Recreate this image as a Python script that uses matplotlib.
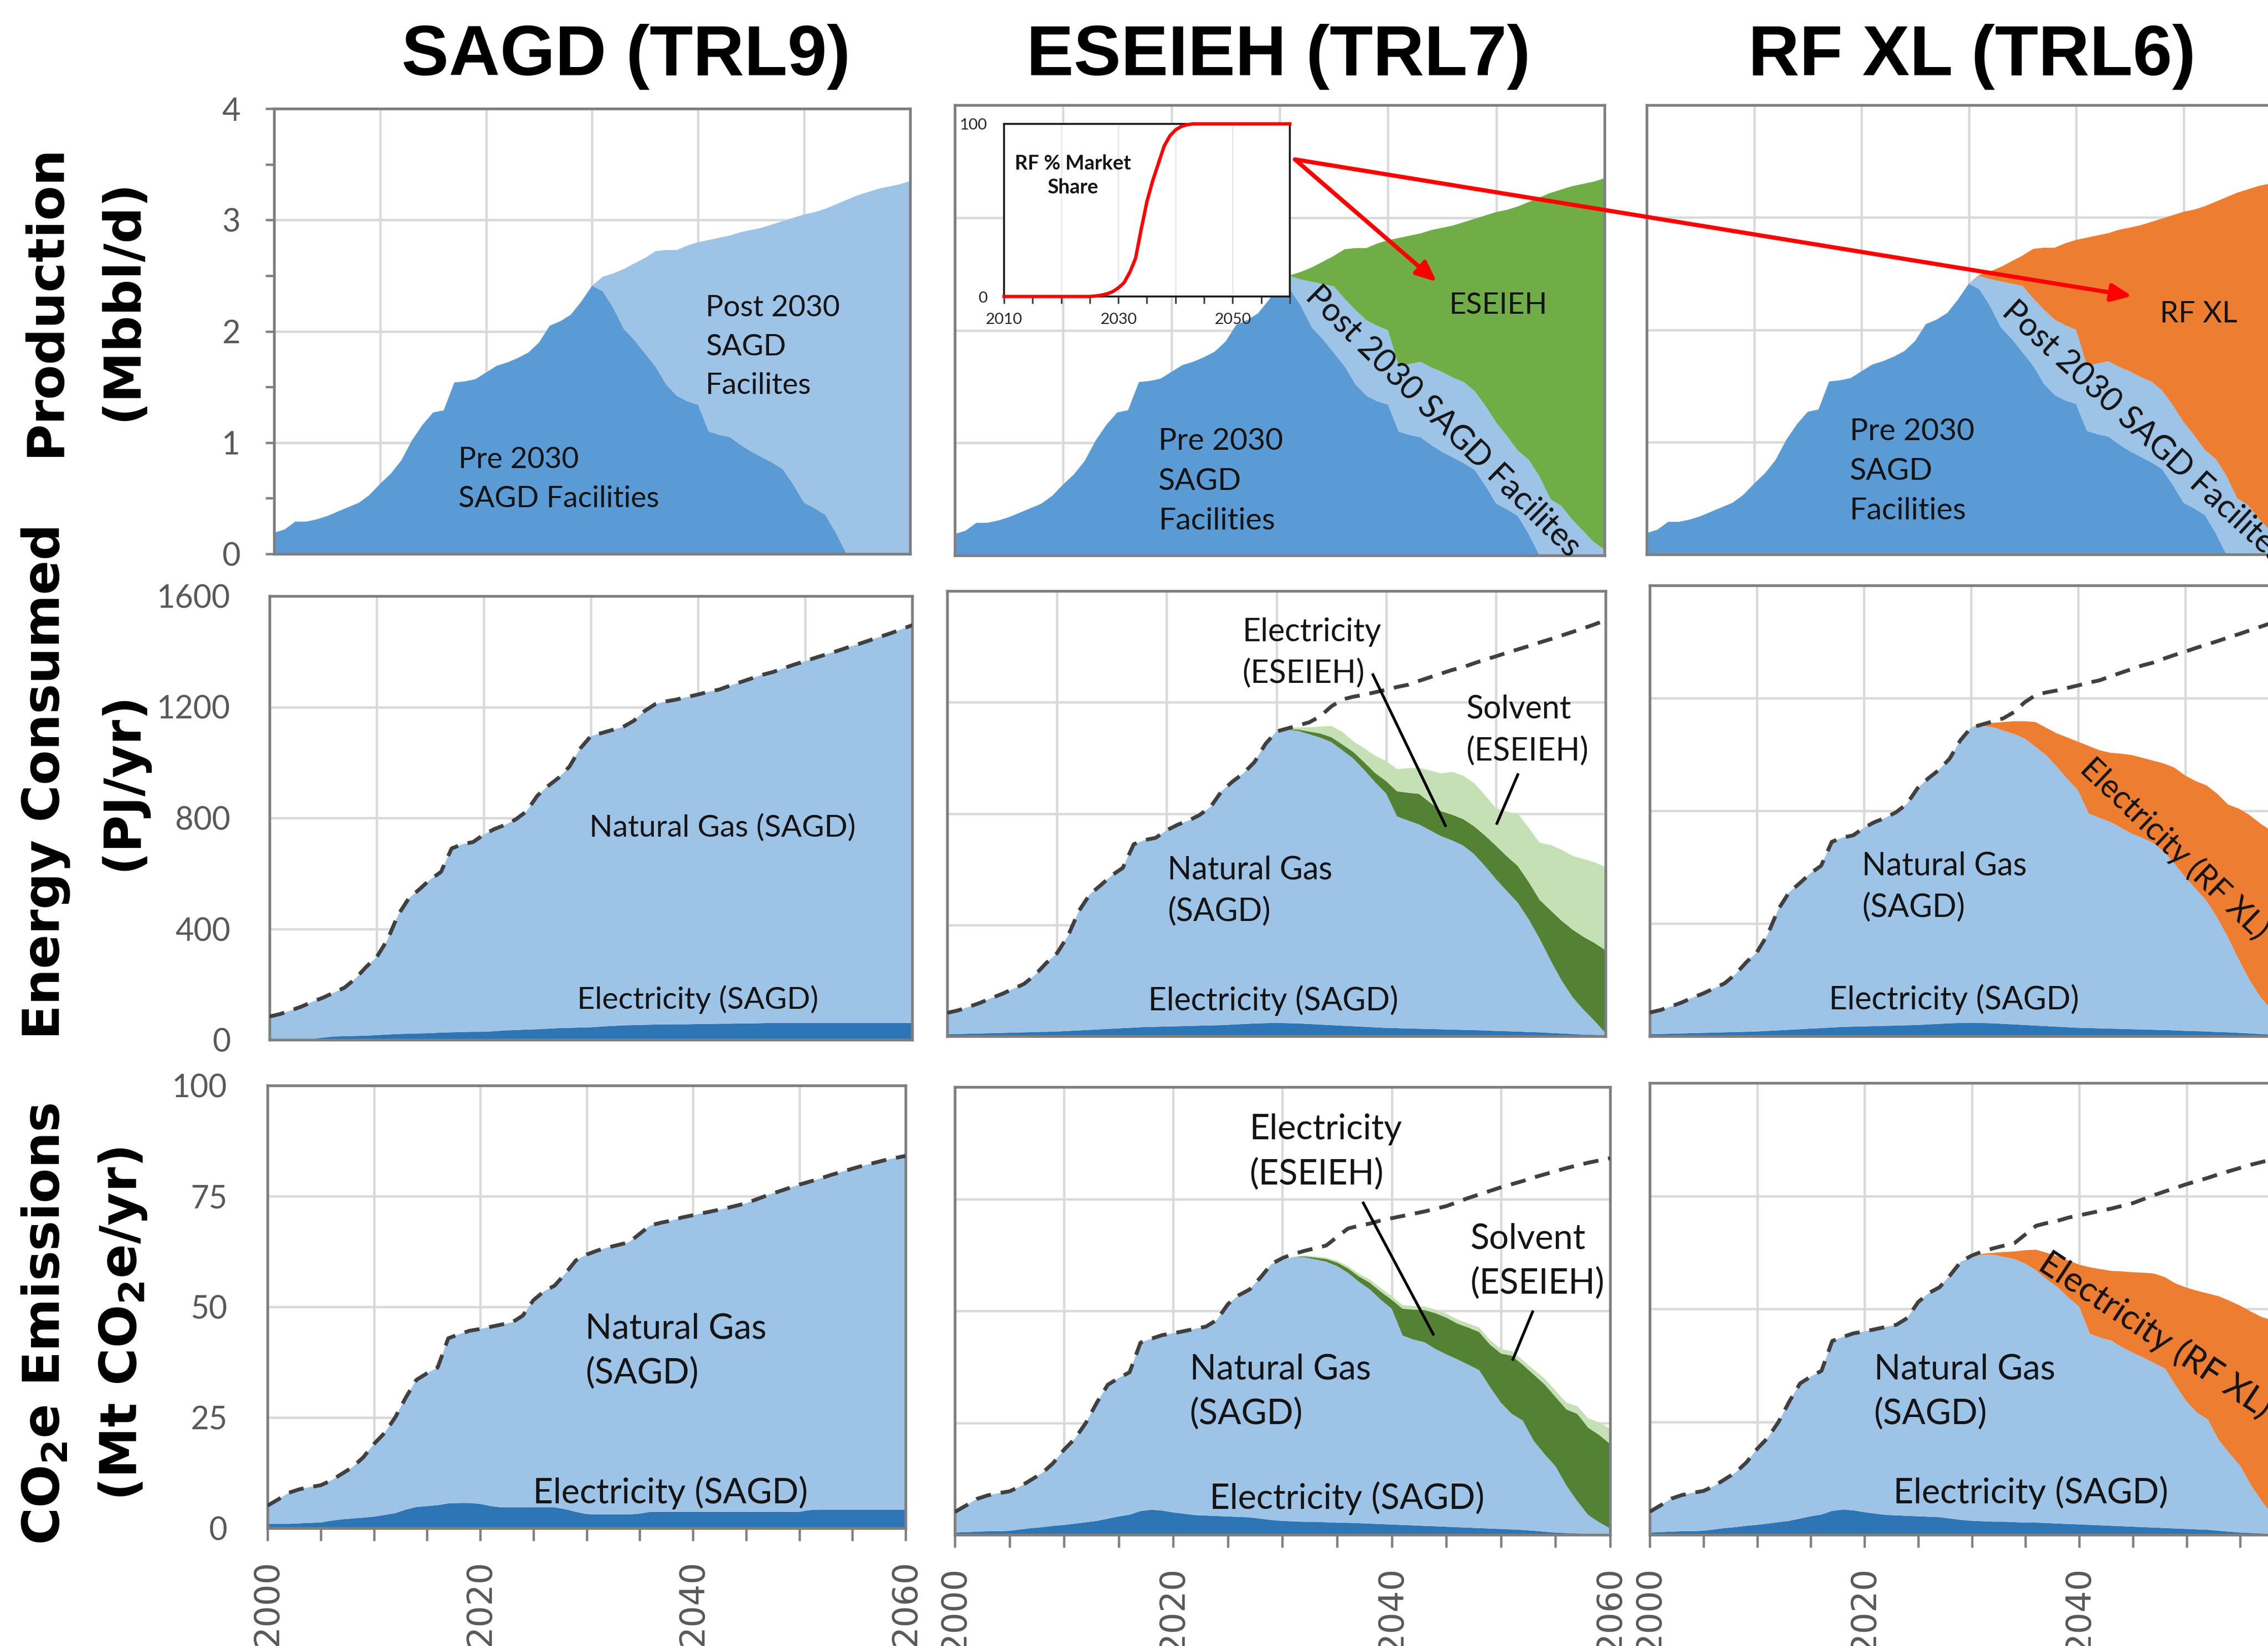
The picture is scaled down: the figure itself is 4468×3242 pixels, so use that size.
import numpy as np
import matplotlib
matplotlib.use("Agg")
import matplotlib.pyplot as plt
from matplotlib.patches import ConnectionPatch, ArrowStyle

W, H, DPI = 4468, 3242, 300

years = np.arange(2000, 2061)
share_years = np.arange(2010, 2061)

# ---------------- Production (Mbbl/d) ----------------
production_pre2030 = [
    0.19, 0.22, 0.29, 0.29, 0.31, 0.34, 0.38, 0.42, 0.46, 0.53,
    0.63, 0.72, 0.84, 1.02, 1.16, 1.27, 1.29, 1.54, 1.55, 1.57,
    1.63, 1.69, 1.72, 1.76, 1.81, 1.90, 2.05, 2.09, 2.15, 2.27,
    2.41, 2.36, 2.21, 2.02, 1.92, 1.80, 1.68, 1.52, 1.42, 1.37,
    1.34, 1.10, 1.07, 1.05, 0.98, 0.92, 0.87, 0.82, 0.76, 0.62,
    0.46, 0.41, 0.35, 0.19, 0.00, 0.00, 0.00, 0.00, 0.00, 0.00,
    0.00,
]
production_post2030_sagd = [0.0] * 31 + [
    0.13, 0.31, 0.54, 0.69, 0.86, 1.04, 1.21, 1.31, 1.40,
    1.46, 1.72, 1.77, 1.81, 1.91, 1.99, 2.06, 2.14, 2.23, 2.40,
    2.59, 2.66, 2.75, 2.95, 3.18, 3.22, 3.25, 3.28, 3.30, 3.32,
    3.35,
]
production_post2030_with_new = [0.0] * 31 + [
    0.12, 0.24, 0.41, 0.49, 0.59, 0.60, 0.66, 0.67, 0.67,
    0.66, 0.58, 0.63, 0.67, 0.69, 0.71, 0.71, 0.72, 0.70, 0.71,
    0.72, 0.65, 0.58, 0.66, 0.70, 0.50, 0.44, 0.32, 0.22, 0.12,
    0.05,
]
production_new_process = [0.0] * 31 + [
    0.01, 0.07, 0.13, 0.20, 0.27, 0.44, 0.55, 0.64, 0.73,
    0.80, 1.14, 1.14, 1.14, 1.22, 1.28, 1.35, 1.42, 1.53, 1.69,
    1.87, 2.01, 2.17, 2.29, 2.48, 2.72, 2.81, 2.96, 3.08, 3.20,
    3.30,
]

# RF market share (%), inset
rf_market_share = [
    0, 0, 0, 0, 0, 0, 0, 0, 0, 0,
    0, 0, 0, 0, 0, 0, 0.3, 0.8, 1.5, 2.8,
    5, 8, 14, 22, 39, 55, 67, 77, 87, 93,
    96.5, 98.5, 99.5, 100, 100, 100, 100, 100, 100, 100,
    100, 100, 100, 100, 100, 100, 100, 100, 100, 100,
    100,
]

# ---------------- Energy consumed (PJ/yr) ----------------
energy_sagd_total = [
    84, 93, 106, 120, 137, 152, 170, 188, 220, 262,
    298, 360, 450, 510, 543, 578, 605, 690, 705, 713,
    740, 760, 775, 795, 824, 880, 915, 945, 985, 1050,
    1095, 1106, 1117, 1128, 1150, 1185, 1210, 1220, 1227, 1236,
    1245, 1255, 1263, 1277, 1290, 1303, 1316, 1326, 1340, 1353,
    1365, 1378, 1390, 1402, 1415, 1427, 1440, 1453, 1466, 1480,
    1495,
]
energy_elec_sagd = [
    2, 2, 2, 3, 3, 8, 12, 13, 14, 15,
    17, 19, 21, 22, 23, 24, 26, 27, 28, 29,
    29, 31, 34, 35, 37, 38, 40, 42, 43, 44,
    45, 48, 50, 52, 53, 54, 55, 55, 56, 56,
    57, 57, 58, 58, 59, 59, 60, 61, 61, 61,
    61, 61, 61, 61, 61, 61, 61, 61, 61, 61,
    61,
]
energy_gas_sagd = [
    82, 91, 104, 117, 134, 144, 158, 175, 206, 247,
    281, 341, 429, 488, 520, 554, 579, 663, 677, 684,
    711, 729, 741, 760, 787, 842, 875, 903, 942, 1006,
    1050, 1058, 1067, 1076, 1097, 1131, 1155, 1165, 1171, 1180,
    1188, 1198, 1205, 1219, 1231, 1244, 1256, 1265, 1279, 1292,
    1304, 1317, 1329, 1341, 1354, 1366, 1379, 1392, 1405, 1419,
    1434,
]
energy_elec_sagd_alt = [
    7, 8, 9, 10, 11, 12, 13, 14, 15, 16,
    17, 19, 21, 23, 25, 27, 29, 31, 33, 34,
    35, 36, 37, 38, 39, 40, 42, 44, 46, 47,
    48, 47, 46, 44, 42, 40, 38, 36, 34, 32,
    30, 29, 28, 27, 26, 25, 24, 23, 22, 21,
    19, 18, 17, 15, 14, 12, 10, 8, 6, 5,
    3,
]
energy_gas_sagd_alt = [
    77, 85, 97, 110, 126, 140, 157, 174, 205, 246,
    281, 341, 429, 487, 518, 551, 576, 659, 672, 679,
    705, 724, 738, 757, 785, 840, 873, 901, 939, 1003,
    1047, 1055, 1051, 1041, 1031, 1017, 990, 962, 923, 881,
    842, 761, 747, 734, 714, 694, 680, 663, 633, 591,
    546, 504, 463, 405, 336, 260, 190, 132, 89, 50,
    8,
]
energy_elec_eseieh = [0] * 31 + [
    2, 5, 10, 15, 18, 21, 24, 28, 33,
    45, 90, 100, 110, 100, 90, 92, 95, 100, 110,
    120, 125, 132, 134, 140, 180, 215, 243, 262, 280,
    298,
]
energy_solvent_eseieh = [0] * 31 + [
    3, 8, 15, 25, 40, 45, 38, 50, 62,
    72, 80, 88, 94, 115, 135, 154, 156, 155, 145,
    135, 160, 188, 195, 205, 235, 255, 265, 280, 290,
    299,
]
energy_elec_rfxl = [0] * 31 + [
    7, 15, 30, 45, 61, 87, 97, 118, 147,
    173, 240, 240, 245, 263, 279, 284, 292, 313, 341,
    360, 383, 410, 440, 472, 536, 585, 615, 635, 660,
    680,
]

# ---------------- CO2e emissions (Mt CO2e/yr) ----------------
emissions_sagd_total = [
    5.1, 6.5, 8.0, 8.8, 9.3, 9.7, 10.8, 12.3, 13.8, 16.0,
    19.0, 21.5, 25.0, 29.5, 33.5, 35.0, 36.3, 42.9, 43.8, 44.6,
    45.0, 45.5, 46.0, 46.5, 48.0, 51.5, 53.5, 54.8, 57.5, 60.5,
    61.8, 62.7, 63.4, 64.0, 64.6, 66.5, 68.4, 69.0, 69.5, 70.2,
    70.7, 71.2, 71.7, 72.2, 72.8, 73.4, 74.3, 75.2, 76.0, 76.8,
    77.6, 78.3, 79.0, 79.8, 80.5, 81.2, 81.9, 82.5, 83.1, 83.6,
    84.1,
]
emissions_elec_sagd = [
    1.0, 1.0, 1.0, 1.1, 1.2, 1.3, 1.7, 2.0, 2.2, 2.4,
    2.6, 3.0, 3.4, 4.2, 4.8, 5.0, 5.2, 5.6, 5.7, 5.7,
    5.5, 5.0, 4.7, 4.7, 4.7, 4.7, 4.7, 4.7, 4.3, 3.7,
    3.2, 3.1, 3.1, 3.1, 3.1, 3.3, 3.7, 3.7, 3.7, 3.7,
    3.7, 3.7, 3.7, 3.7, 3.7, 3.7, 3.7, 3.7, 3.7, 3.7,
    3.7, 4.1, 4.2, 4.2, 4.2, 4.2, 4.2, 4.2, 4.2, 4.2,
    4.2,
]
emissions_gas_sagd = [
    4.1, 5.5, 7.0, 7.7, 8.1, 8.4, 9.1, 10.3, 11.6, 13.6,
    16.4, 18.5, 21.6, 25.3, 28.7, 30.0, 31.1, 37.3, 38.1, 38.9,
    39.5, 40.5, 41.3, 41.8, 43.3, 46.8, 48.8, 50.1, 53.2, 56.8,
    58.6, 59.6, 60.3, 60.9, 61.5, 63.2, 64.7, 65.3, 65.8, 66.5,
    67.0, 67.5, 68.0, 68.5, 69.1, 69.7, 70.6, 71.5, 72.3, 73.1,
    73.9, 74.2, 74.8, 75.6, 76.3, 77.0, 77.7, 78.3, 78.9, 79.4,
    79.9,
]
emissions_elec_sagd_alt = [
    0.5, 0.6, 0.7, 0.8, 0.8, 0.9, 1.2, 1.5, 1.7, 2.0,
    2.2, 2.5, 2.8, 3.1, 3.6, 4.1, 4.5, 5.3, 5.6, 5.4,
    5.0, 4.7, 4.4, 4.3, 4.2, 4.1, 4.0, 3.9, 3.6, 3.3,
    3.1, 3.0, 2.9, 2.9, 2.8, 2.7, 2.7, 2.6, 2.5, 2.4,
    2.3, 2.2, 2.1, 2.0, 1.9, 1.8, 1.7, 1.6, 1.5, 1.4,
    1.3, 1.2, 1.1, 0.9, 0.7, 0.5, 0.4, 0.3, 0.2, 0.1,
    0.0,
]
emissions_gas_sagd_alt = [
    4.6, 5.9, 7.3, 8.0, 8.5, 8.8, 9.6, 10.8, 12.1, 14.0,
    16.8, 19.0, 22.2, 26.4, 29.9, 30.9, 31.8, 37.6, 38.2, 39.2,
    40.0, 40.8, 41.6, 42.2, 43.8, 47.4, 49.5, 50.9, 53.9, 57.2,
    58.2, 59.0, 59.1, 58.6, 58.2, 57.3, 55.8, 53.9, 52.3, 50.1,
    48.2, 42.3, 41.5, 41.0, 39.6, 38.5, 37.5, 36.4, 35.3, 31.6,
    28.2, 25.8, 24.4, 20.1, 17.3, 14.8, 10.6, 7.2, 4.2, 2.7,
    1.4,
]
emissions_elec_eseieh = [0] * 31 + [
    0.0, 0.2, 0.4, 0.6, 0.8, 1.0, 1.2, 1.5, 1.8,
    2.0, 6.0, 6.7, 7.2, 8.0, 8.2, 8.0, 8.3, 8.5, 9.5,
    11.0, 13.0, 12.5, 14.8, 15.6, 15.5, 17.0, 19.5, 19.5, 19.5,
    18.9,
]
emissions_solvent_eseieh = [0] * 31 + [
    0.1, 0.2, 0.3, 0.3, 0.4, 0.5, 0.6, 0.7, 0.8,
    0.8, 0.8, 0.8, 0.8, 0.8, 0.9, 0.9, 0.9, 1.0, 1.0,
    1.0, 1.0, 1.0, 1.1, 1.3, 1.4, 1.5, 1.7, 2.1, 2.8,
    3.4,
]
emissions_elec_rfxl = [0] * 31 + [
    0.2, 0.4, 1.1, 1.7, 3.0, 4.6, 5.9, 6.8, 8.2,
    9.3, 14.7, 15.2, 15.4, 16.8, 17.8, 18.8, 19.8, 20.2, 22.6,
    25.2, 27.0, 27.9, 31.8, 33.8, 35.4, 38.4, 40.7, 43.1, 44.0,
    44.6,
]

column_titles = ["SAGD (TRL9)", "ESEIEH (TRL7)", "RF XL (TRL6)"]

# ---------------- style ----------------
C_PRE = "#5B9BD5"
C_POST = "#9DC3E6"
C_GAS = "#9DC3E6"
C_ELEC = "#2E75B6"
C_ESEIEH = "#70AD47"
C_ES_ELEC = "#548235"
C_SOLV = "#C5E0B4"
C_RF = "#ED7D31"
GRID = "#D9D9D9"
FRAME = "#7F7F7F"
TICKC = "#595959"
TEXTC = "#141414"
ANNOT = "Lato"

fig = plt.figure(figsize=(W / DPI, H / DPI), dpi=DPI)
fig.patch.set_facecolor("white")


def panel(left, right, top, bottom):
    return fig.add_axes([left / W, 1 - bottom / H, (right - left) / W, (bottom - top) / H])


def style(ax, ymax, ystep, first_col, bottom_row, ylab_pad):
    ax.set_xlim(2000, 2060)
    ax.set_ylim(0, ymax)
    ax.set_xticks(np.arange(2000, 2061, 10))
    yt = np.arange(0, ymax + ystep / 2, ystep)
    ax.set_yticks(yt)
    ax.grid(True, which="major", color=GRID, lw=1.1)
    ax.set_axisbelow(True)
    for s in ax.spines.values():
        s.set_color(FRAME)
        s.set_linewidth(1.3)
    ax.tick_params(which="both", length=0, labelbottom=False, labelleft=False)
    if first_col:
        ax.set_yticks(yt, labels=[f"{int(v)}" for v in yt], fontsize=15,
                      fontfamily=ANNOT, color=TICKC)
        ax.tick_params(axis="y", labelleft=True, pad=ylab_pad)
    if bottom_row:
        ax.set_xticks(np.arange(2000, 2061, 10),
                      labels=["2000", "", "2020", "", "2040", "", "2060"],
                      fontsize=16, fontfamily="DejaVu Sans", color=TICKC, rotation=90)
        ax.set_xticks(np.arange(2005, 2060, 10), minor=True)
        ax.tick_params(axis="x", which="both", length=6, width=1.1, color=FRAME,
                       pad=9, labelbottom=True)


def label(ax, x, y, s, size, **kw):
    kw.setdefault("ha", "left")
    kw.setdefault("va", "center")
    ax.text(x, y, s, fontsize=size, family=ANNOT, color=TEXTC, zorder=6, **kw)


# ---------------- axes ----------------
ax_p1 = panel(540, 1793, 214, 1091)
ax_p2 = panel(1881, 3161, 207, 1094)
ax_p3 = panel(3244, 4513, 207, 1092)
ax_e1 = panel(531, 1797, 1174, 2048)
ax_e2 = panel(1866, 3163, 1164, 2041)
ax_e3 = panel(3250, 4516, 1153, 2041)
ax_c1 = panel(527, 1784, 2138, 3010)
ax_c2 = panel(1881, 3172, 2141, 3023)
ax_c3 = panel(3250, 4519, 2133, 3023)

style(ax_p1, 4, 1, True, False, 12)
ax_p1.set_yticks(np.arange(0.5, 4, 1), minor=True)
ax_p1.tick_params(axis="y", which="both", length=4, width=1.1, color=FRAME)
style(ax_p2, 4, 1, False, False, 0)
style(ax_p3, 4, 1, False, False, 0)
style(ax_e1, 1600, 400, True, False, 18.5)
style(ax_e2, 1600, 400, False, False, 0)
style(ax_e3, 1600, 400, False, False, 0)
style(ax_c1, 100, 25, True, True, 19)
style(ax_c2, 100, 25, False, True, 0)
style(ax_c3, 100, 25, False, True, 0)

# ---------------- production ----------------
ax_p1.stackplot(years, production_pre2030, production_post2030_sagd,
                colors=[C_PRE, C_POST], linewidth=0, zorder=2)
ax_p2.stackplot(years, production_pre2030, production_post2030_with_new, production_new_process,
                colors=[C_PRE, C_POST, C_ESEIEH], linewidth=0, zorder=2)
ax_p3.stackplot(years, production_pre2030, production_post2030_with_new, production_new_process,
                colors=[C_PRE, C_POST, C_RF], linewidth=0, zorder=2)

label(ax_p1, 2040.7, 1.86, "Post 2030\nSAGD\nFacilites", 14, linespacing=1.55)
label(ax_p1, 2017.4, 0.67, "Pre 2030\nSAGD Facilities", 14, linespacing=1.55)
label(ax_p2, 2018.8, 0.66, "Pre 2030\nSAGD\nFacilities", 14.5, linespacing=1.55)
label(ax_p2, 2050.2, 2.22, "ESEIEH", 14, ha="center")
label(ax_p2, 2045.1, 1.19, "Post 2030 SAGD Facilites", 15.5, ha="center",
      rotation=-44.5, rotation_mode="anchor")
label(ax_p3, 2018.9, 0.74, "Pre 2030\nSAGD\nFacilities", 14.5, linespacing=1.55)
label(ax_p3, 2051.4, 2.14, "RF XL", 14, ha="center")
label(ax_p3, 2046.3, 1.09, "Post 2030 SAGD Facilites", 15.5, ha="center",
      rotation=-42.5, rotation_mode="anchor")

# inset: RF market share
ax_in = panel(1978, 2541, 244, 584)
ax_in.set_facecolor("white")
ax_in.set_xlim(2010, 2060)
ax_in.set_ylim(0, 100)
ax_in.vlines([2020, 2030, 2040, 2050], 0, 100, color="#EAEAEA", lw=0.7, zorder=0)
ax_in.plot(share_years, rf_market_share, color="#FF0000", lw=1.6, zorder=5, clip_on=False)
ax_in.set_xticks(np.arange(2010, 2061, 5),
                 labels=["2010", "", "", "", "2030", "", "", "", "2050", "", ""],
                 fontsize=7.5, fontfamily=ANNOT, color="#262626")
ax_in.set_yticks([0, 100], labels=["0", "100"], fontsize=7.5, fontfamily=ANNOT, color="#262626")
ax_in.tick_params(axis="x", length=3.4, width=0.8, color="#404040", pad=4)
ax_in.tick_params(axis="y", length=0, pad=8)
for s in ax_in.spines.values():
    s.set_color("#1A1A1A")
    s.set_linewidth(0.9)
ax_in.text(0.24, 0.70, "RF % Market\nShare", transform=ax_in.transAxes, ha="center",
           va="center", fontsize=9.5, fontweight="bold", family=ANNOT, color=TEXTC,
           linespacing=1.35)

arrow_style = ArrowStyle("-|>", head_length=0.8, head_width=0.35)
for target, xy in ((ax_p2, (2044.5, 2.43)), (ax_p3, (2045.2, 2.30))):
    con = ConnectionPatch(xyA=(1.018, 0.794), coordsA=ax_in.transAxes,
                          xyB=xy, coordsB=target.transData,
                          arrowstyle=arrow_style, mutation_scale=10,
                          color="#FF0000", lw=2.0, zorder=10)
    fig.add_artist(con)

# ---------------- energy ----------------
dash = (0, (4.0, 2.6))
ax_e1.stackplot(years, energy_elec_sagd, energy_gas_sagd,
                colors=[C_ELEC, C_GAS], linewidth=0, zorder=2)
ax_e2.stackplot(years, energy_elec_sagd_alt, energy_gas_sagd_alt,
                energy_elec_eseieh, energy_solvent_eseieh,
                colors=[C_ELEC, C_GAS, C_ES_ELEC, C_SOLV], linewidth=0, zorder=2)
ax_e3.stackplot(years, energy_elec_sagd_alt, energy_gas_sagd_alt, energy_elec_rfxl,
                colors=[C_ELEC, C_GAS, C_RF], linewidth=0, zorder=2)
for ax in (ax_e1, ax_e2, ax_e3):
    ax.plot(years, energy_sagd_total, color="#404040", lw=1.8, ls=dash, zorder=4)

label(ax_e1, 2042.3, 765, "Natural Gas (SAGD)", 14.5, ha="center")
label(ax_e1, 2040.0, 146, "Electricity (SAGD)", 14.5, ha="center")
label(ax_e2, 2026.9, 1377, "Electricity\n(ESEIEH)", 15, linespacing=1.5)
label(ax_e2, 2047.3, 1099, "Solvent\n(ESEIEH)", 15, linespacing=1.5)
label(ax_e2, 2020.1, 522, "Natural Gas\n(SAGD)", 15, linespacing=1.5)
label(ax_e2, 2029.7, 128, "Electricity (SAGD)", 15, ha="center")
ax_e2.plot([2038.8, 2045.4], [1299, 757], color="black", lw=1.3, zorder=5)
ax_e2.plot([2052.0, 2050.1], [940, 765], color="black", lw=1.3, zorder=5)
label(ax_e3, 2019.8, 529, "Natural Gas\n(SAGD)", 15, linespacing=1.5)
label(ax_e3, 2028.4, 131, "Electricity (SAGD)", 15, ha="center")
label(ax_e3, 2049.0, 665, "Electricity (RF XL)", 15, ha="center",
      rotation=-43.6, rotation_mode="anchor")

# ---------------- emissions ----------------
ax_c1.stackplot(years, emissions_elec_sagd, emissions_gas_sagd,
                colors=[C_ELEC, C_GAS], linewidth=0, zorder=2)
ax_c2.stackplot(years, emissions_elec_sagd_alt, emissions_gas_sagd_alt,
                emissions_elec_eseieh, emissions_solvent_eseieh,
                colors=[C_ELEC, C_GAS, C_ES_ELEC, C_SOLV], linewidth=0, zorder=2)
ax_c3.stackplot(years, emissions_elec_sagd_alt, emissions_gas_sagd_alt, emissions_elec_rfxl,
                colors=[C_ELEC, C_GAS, C_RF], linewidth=0, zorder=2)
for ax in (ax_c1, ax_c2, ax_c3):
    ax.plot(years, emissions_sagd_total, color="#404040", lw=1.8, ls=dash, zorder=4)

label(ax_c1, 2029.9, 40.0, "Natural Gas\n(SAGD)", 16.5, linespacing=1.45)
label(ax_c1, 2037.9, 8.0, "Electricity (SAGD)", 16.5, ha="center")
label(ax_c2, 2027.0, 85.5, "Electricity\n(ESEIEH)", 16.5, linespacing=1.45)
label(ax_c2, 2047.2, 61.1, "Solvent\n(ESEIEH)", 16.5, linespacing=1.45)
label(ax_c2, 2021.5, 32.0, "Natural Gas\n(SAGD)", 16.5, linespacing=1.45)
label(ax_c2, 2035.9, 8.2, "Electricity (SAGD)", 16.5, ha="center")
ax_c2.plot([2037.4, 2043.8], [74.1, 44.8], color="black", lw=1.3, zorder=5)
ax_c2.plot([2052.9, 2051.1], [49.8, 39.2], color="black", lw=1.3, zorder=5)
label(ax_c3, 2020.9, 31.7, "Natural Gas\n(SAGD)", 16.5, linespacing=1.45)
label(ax_c3, 2035.5, 9.3, "Electricity (SAGD)", 16.5, ha="center")
label(ax_c3, 2047.1, 44.2, "Electricity (RF XL)", 16.5, ha="center",
      rotation=-33.6, rotation_mode="anchor")

# ---------------- titles and row labels ----------------
for cx, title in zip((1233, 2518, 3885), column_titles):
    fig.text(cx / W, 1 - 112 / H, title, ha="center", va="center", fontsize=33.5,
             fontweight="bold", family="Liberation Sans", color="black")

row_labels = [
    (591, "Production", "(Mbbl/d)"),
    (1539, "Energy Consumed", "(PJ/yr)"),
    (2608, r"CO$_\mathbf{2}$e Emissions", r"(Mt CO$_\mathbf{2}$e/yr)"),
]
for cy, line1, line2 in row_labels:
    fig.text(90 / W, 1 - cy / H, line1, rotation=90, ha="center", va="center",
             fontsize=24, fontweight="bold", family="DejaVu Sans", color="black")
    fig.text(242 / W, 1 - cy / H, line2, rotation=90, ha="center", va="center",
             fontsize=24, fontweight="bold", family="DejaVu Sans", color="black")

fig.savefig("out.png", dpi=DPI, facecolor="white")
